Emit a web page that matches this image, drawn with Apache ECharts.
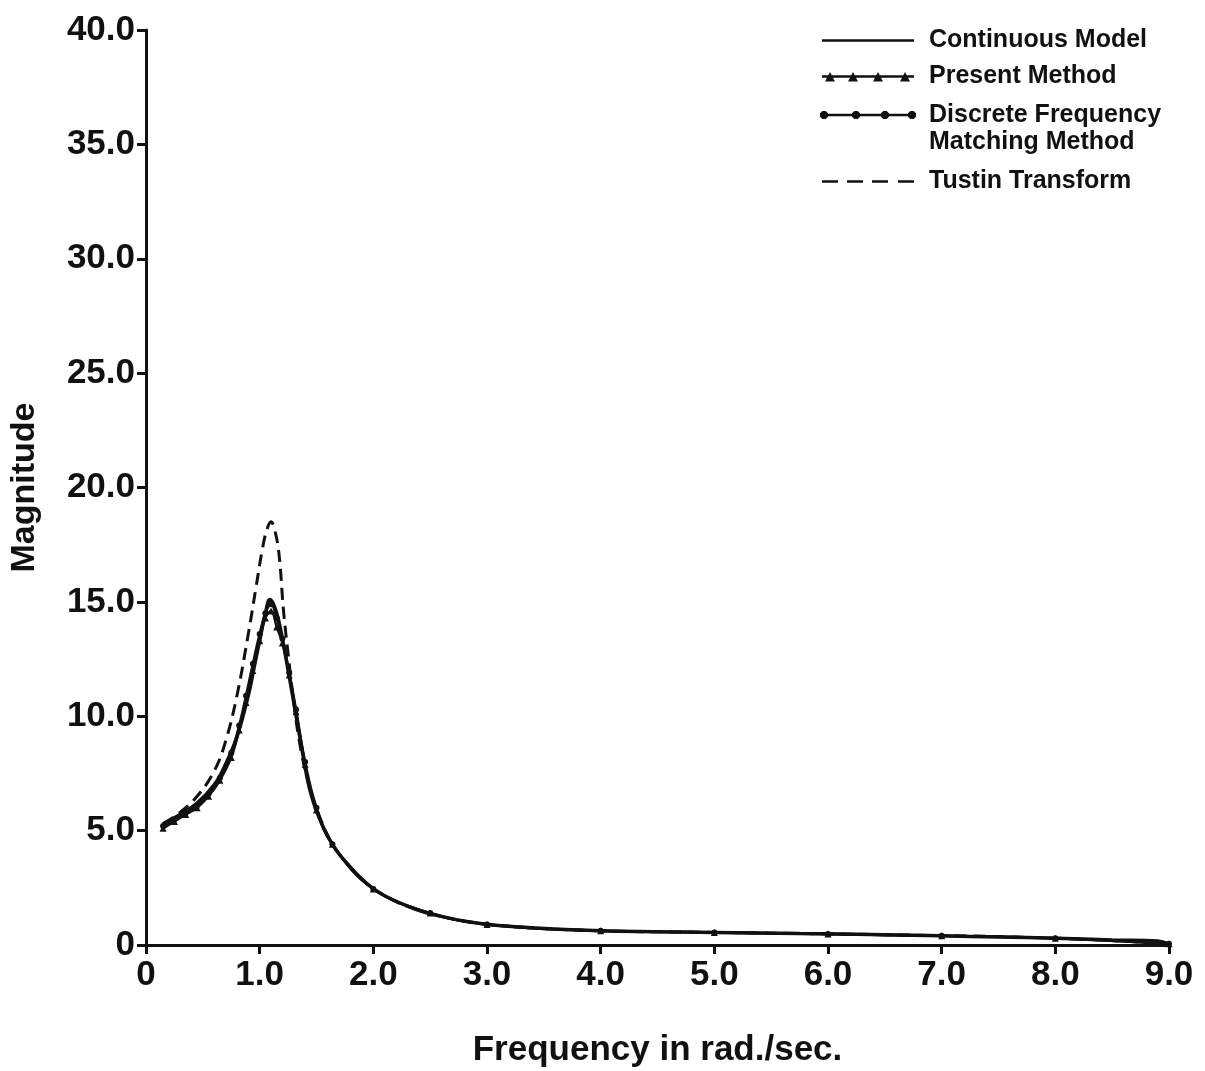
<!DOCTYPE html>
<html>
<head>
<meta charset="utf-8">
<script src="https://cdn.jsdelivr.net/npm/echarts@6/dist/echarts.min.js"></script>
<style>
  html, body { margin: 0; padding: 0; background: #fff; }
  #chart { width: 1205px; height: 1071px; }
</style>
</head>
<body>
<div id="chart"></div>
<script>
// Frequency response magnitude: continuous model vs. three discretisations
const seriesNames = ['Continuous Model', 'Present Method', 'Discrete Frequency\nMatching Method', 'Tustin Transform'];

const continuousX = [0.15, 0.3, 0.45, 0.6, 0.7, 0.8, 0.9, 0.95, 1.0, 1.05, 1.09, 1.13, 1.18, 1.24, 1.3, 1.36, 1.44, 1.52, 1.64, 1.78, 1.94, 2.1, 2.38, 2.6, 2.82, 3.1, 3.4, 4.0, 4.5, 5.0, 5.75, 6.5, 7.0, 7.5, 8.0, 8.5, 8.9, 9.0];
const continuousY = [5.3, 5.7, 6.2, 7.0, 7.9, 9.1, 10.9, 12.1, 13.3, 14.5, 15.1, 14.8, 13.9, 12.3, 10.6, 8.9, 6.8, 5.6, 4.4, 3.5, 2.7, 2.15, 1.55, 1.25, 1.03, 0.85, 0.75, 0.62, 0.58, 0.55, 0.5, 0.45, 0.4, 0.35, 0.3, 0.22, 0.18, 0.05];

const presentX = [0.15, 0.25, 0.35, 0.45, 0.55, 0.65, 0.75, 0.82, 0.88, 0.94, 1.0, 1.05, 1.1, 1.15, 1.2, 1.26, 1.32, 1.4, 1.5, 1.64, 2.0, 2.5, 3.0, 4.0, 5.0, 6.0, 7.0, 8.0, 9.0];
const presentY = [5.1, 5.4, 5.7, 6.0, 6.5, 7.2, 8.2, 9.4, 10.6, 12.0, 13.3, 14.3, 14.6, 13.9, 13.2, 11.8, 10.2, 7.9, 5.9, 4.4, 2.45, 1.4, 0.9, 0.62, 0.55, 0.48, 0.4, 0.3, 0.05];

const matchingX = [0.15, 0.25, 0.35, 0.45, 0.55, 0.65, 0.75, 0.82, 0.88, 0.94, 1.0, 1.05, 1.1, 1.15, 1.2, 1.26, 1.32, 1.4, 1.5, 1.64, 2.0, 2.5, 3.0, 4.0, 5.0, 6.0, 7.0, 8.0, 9.0];
const matchingY = [5.2, 5.5, 5.8, 6.1, 6.6, 7.3, 8.4, 9.6, 10.9, 12.3, 13.6, 14.5, 14.9, 14.3, 13.4, 11.9, 10.3, 8.0, 6.0, 4.4, 2.45, 1.4, 0.9, 0.62, 0.55, 0.48, 0.4, 0.3, 0.05];

const tustinX = [0.15, 0.3, 0.45, 0.6, 0.7, 0.8, 0.9, 0.97, 1.02, 1.06, 1.1, 1.13, 1.17, 1.21, 1.26, 1.3, 1.36, 1.44, 1.52, 1.64, 1.78, 1.94, 2.1, 2.38, 2.82, 3.4, 4.0, 5.0, 6.5, 8.0, 9.0];
const tustinY = [5.3, 5.8, 6.5, 7.6, 8.9, 10.9, 13.6, 15.7, 17.2, 18.1, 18.5, 18.2, 17.1, 14.6, 12.3, 10.6, 8.6, 6.9, 5.7, 4.4, 3.5, 2.7, 2.15, 1.55, 1.03, 0.75, 0.62, 0.55, 0.45, 0.3, 0.05];

const xTicks = { min: 0, max: 9, step: 1 };
const yTicks = { min: 0, max: 40, step: 5 };

const pairs = (xs, ys) => xs.map((x, i) => [x, ys[i]]);
const fmt = v => (v === 0 ? '0' : v.toFixed(1));

const FONT = '"Liberation Sans", Arial, Helvetica, sans-serif';
const INK = '#111';

// Legend icons are drawn in a 101 x 12 box; the two tiny corner specks
// pin the box so the visible rule keeps its thickness and leaves a gap before the text.
const BOX = ' M0,0L0.02,0L0,0.02Z M101,12L100.98,12L101,11.98Z';
const RULE = 'M0,4.8L92,4.8L92,7.2L0,7.2Z';
// small filled octagon used as a dot
const dot = (cx, cy, r) => {
  const k = r * 0.414;
  return ' M' + (cx - k) + ',' + (cy - r) + 'L' + (cx + k) + ',' + (cy - r) + 'L' + (cx + r) + ',' + (cy - k) +
    'L' + (cx + r) + ',' + (cy + k) + 'L' + (cx + k) + ',' + (cy + r) + 'L' + (cx - k) + ',' + (cy + r) +
    'L' + (cx - r) + ',' + (cy + k) + 'L' + (cx - r) + ',' + (cy - k) + 'Z';
};
const plainIcon = 'path://' + RULE + BOX;
const dashIcon = 'path://M0,4.8L16,4.8L16,7.2L0,7.2Z M25,4.8L41,4.8L41,7.2L25,7.2Z M50,4.8L66,4.8L66,7.2L50,7.2Z M76,4.8L92,4.8L92,7.2L76,7.2Z' + BOX;
const triIcon = 'path://' + RULE + ' M3,11L8,1.5L13,11Z M26,11L31,1.5L36,11Z M51,11L56,1.5L61,11Z M78,11L83,1.5L88,11Z' + BOX;
// two-line label: taller box (40) so the rule sits level with the first text line
const dotIcon = 'path://' + RULE + dot(2, 6, 4) + dot(34, 6, 4) + dot(63, 6, 4) + dot(90, 6, 4) +
  ' M-2,0L-1.98,0L-2,0.02Z M101,40L100.98,40L101,39.98Z';

const legendBase = {
  orient: 'vertical',
  left: 822,
  padding: 0,
  itemWidth: 103,
  itemHeight: 12,
  selectedMode: false,
  textStyle: { fontFamily: FONT, fontSize: 25, fontWeight: 'bold', color: INK, lineHeight: 27 }
};

const chart = echarts.init(document.getElementById('chart'), null, { renderer: 'canvas' });

chart.setOption({
  backgroundColor: '#fff',
  animation: false,
  grid: { left: 146, right: 36, top: 30, bottom: 126, containLabel: false, outerBoundsMode: 'none' },
  legend: [
    Object.assign({}, legendBase, { top: 27, data: [{ name: seriesNames[0], icon: plainIcon }] }),
    Object.assign({}, legendBase, { top: 63, data: [{ name: seriesNames[1], icon: triIcon }] }),
    Object.assign({}, legendBase, { top: 102, left: 820, itemWidth: 105, itemHeight: 40, data: [{ name: seriesNames[2], icon: dotIcon }] }),
    Object.assign({}, legendBase, { top: 168, data: [{ name: seriesNames[3], icon: dashIcon }] })
  ],
  xAxis: {
    type: 'value',
    min: xTicks.min, max: xTicks.max, interval: xTicks.step,
    name: 'Frequency in rad./sec.',
    nameLocation: 'middle',
    nameGap: 88,
    nameTextStyle: { fontFamily: FONT, fontSize: 35, fontWeight: 'bold', color: INK },
    axisLine: { onZero: false, lineStyle: { color: INK, width: 3 } },
    axisTick: { show: true, inside: false, length: 9, lineStyle: { color: INK, width: 3 } },
    axisLabel: { formatter: fmt, fontFamily: FONT, fontSize: 35, fontWeight: 'bold', color: INK, margin: 13 },
    splitLine: { show: false }
  },
  yAxis: {
    type: 'value',
    min: yTicks.min, max: yTicks.max, interval: yTicks.step,
    name: 'Magnitude',
    nameLocation: 'middle',
    nameGap: 104,
    nameTextStyle: { fontFamily: FONT, fontSize: 34, fontWeight: 'bold', color: INK },
    axisLine: { onZero: false, lineStyle: { color: INK, width: 3 } },
    axisTick: { show: true, inside: false, length: 9, lineStyle: { color: INK, width: 3 } },
    axisLabel: { formatter: fmt, fontFamily: FONT, fontSize: 35, fontWeight: 'bold', color: INK, margin: 11 },
    splitLine: { show: false }
  },
  series: [
    {
      name: seriesNames[0], type: 'line', smooth: 0.4, symbol: 'none',
      lineStyle: { color: INK, width: 3.5 }, itemStyle: { color: INK },
      data: pairs(continuousX, continuousY), z: 3
    },
    {
      name: seriesNames[1], type: 'line', smooth: 0.4, symbol: 'triangle', symbolSize: 7, showAllSymbol: true,
      lineStyle: { color: INK, width: 2.5 }, itemStyle: { color: INK },
      data: pairs(presentX, presentY), z: 4
    },
    {
      name: seriesNames[2], type: 'line', smooth: 0.4, symbol: 'circle', symbolSize: 6, showAllSymbol: true,
      lineStyle: { color: INK, width: 2.5 }, itemStyle: { color: INK },
      data: pairs(matchingX, matchingY), z: 4
    },
    {
      name: seriesNames[3], type: 'line', smooth: 0.4, symbol: 'none',
      lineStyle: { color: INK, width: 3, type: [12, 7] }, itemStyle: { color: INK },
      data: pairs(tustinX, tustinY), z: 2
    }
  ]
});
</script>
</body>
</html>
